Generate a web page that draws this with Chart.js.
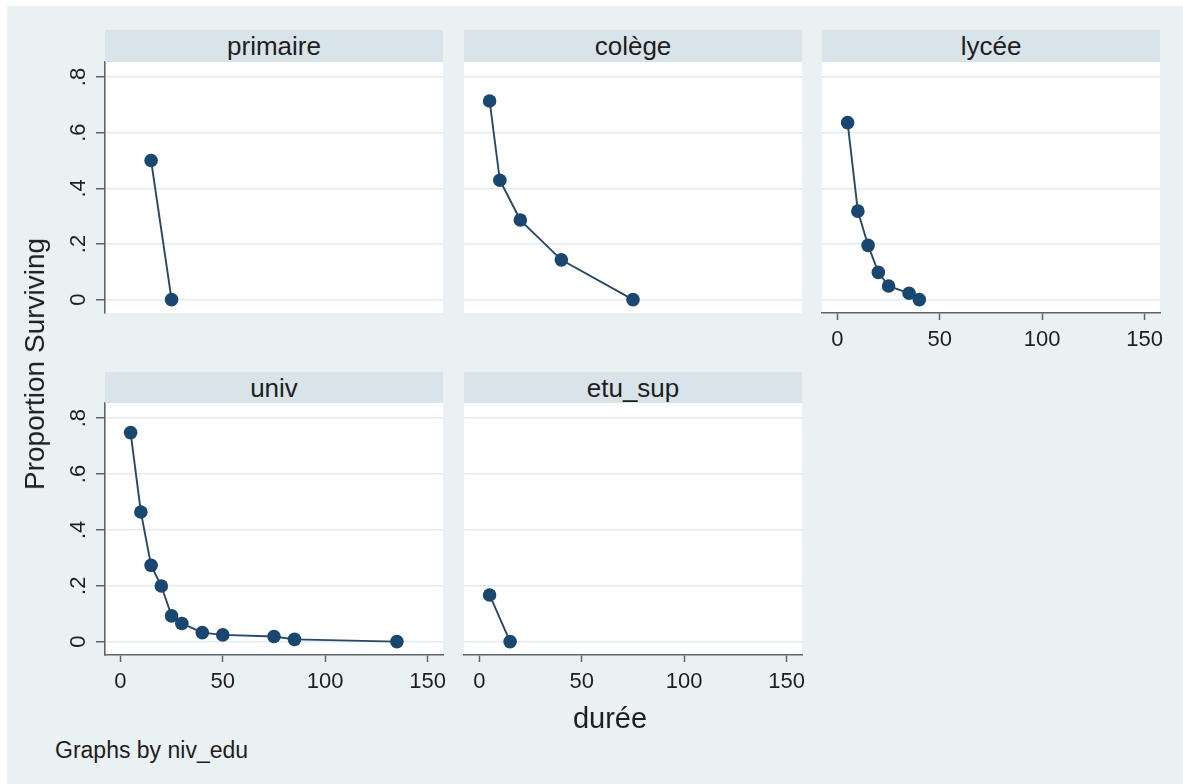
<!DOCTYPE html>
<html><head><meta charset="utf-8">
<script src="https://cdn.jsdelivr.net/npm/chart.js@4"></script>
<style>
html,body{margin:0;padding:0;}
body{background:#fff;width:1183px;height:784px;overflow:hidden;position:relative;font-family:"Liberation Sans",Arial,sans-serif;color:#1e1e1e;}
#bg{position:absolute;left:7px;top:6px;right:0;bottom:0;background:rgb(234,241,243);}
.strip{position:absolute;background:rgb(216,228,233);display:flex;align-items:center;justify-content:center;font-size:26px;color:#1e1e1e;line-height:1;}
canvas{position:absolute;}
.txt{position:absolute;white-space:nowrap;line-height:1;}
</style></head><body>
<div id="bg"></div>
<div id="root"></div>
<div class="txt" id="ytitle" style="left:35px;top:364px;font-size:28px;transform:translate(-50%,-50%) rotate(-90deg);">Proportion Surviving</div>
<div class="txt" id="xtitle" style="left:610px;top:718px;font-size:29px;transform:translate(-50%,-50%);">durée</div>
<div class="txt" id="note" style="left:55px;top:750px;font-size:23px;transform:translate(0,-50%);">Graphs by niv_edu</div>
<script>
// ---- data ----
const categories = ['primaire', 'colège', 'lycée', 'univ', 'etu_sup'];
const primaireX = [15, 25];
const primaireY = [0.5, 0];
const colegeX = [5, 10, 20, 40, 75];
const colegeY = [0.714, 0.429, 0.286, 0.143, 0];
const lyceeX = [5, 10, 15, 20, 25, 35, 40];
const lyceeY = [0.636, 0.318, 0.195, 0.098, 0.049, 0.023, 0];
const univX = [5, 10, 15, 20, 25, 30, 40, 50, 75, 85, 135];
const univY = [0.748, 0.464, 0.273, 0.199, 0.092, 0.065, 0.032, 0.024, 0.018, 0.008, 0];
const etuSupX = [5, 15];
const etuSupY = [0.167, 0];
const yTickValues = [0, 0.2, 0.4, 0.6, 0.8];
const yTickLabels = ['0', '.2', '.4', '.6', '.8'];
const xTickValues = [0, 50, 100, 150];
const xTickLabels = ['0', '50', '100', '150'];

const seriesX = [primaireX, colegeX, lyceeX, univX, etuSupX];
const seriesY = [primaireY, colegeY, lyceeY, univY, etuSupY];

// ---- layout ----
const colLeft = [105, 464, 822];
const plotW = 338;
const rows = [{stripTop: 30, stripH: 32, plotTop: 62, plotH: 251},
              {stripTop: 372, stripH: 31, plotTop: 403, plotH: 252}];
const panels = [
  {col: 0, row: 0, showY: true,  showX: false},
  {col: 1, row: 0, showY: false, showX: false},
  {col: 2, row: 0, showY: false, showX: true},
  {col: 0, row: 1, showY: true,  showX: true},
  {col: 1, row: 1, showY: false, showX: true}
];
const YW = 60, XH = 50, PADT = 40, PADR = 34;
const navy = 'rgb(26,71,111)';
const lineColor = 'rgb(40,72,105)';
const axisColor = '#5f6367';
const gridColor = 'rgb(226,235,238)';
const font = 'Liberation Sans';

const whiteBg = {
  id: 'whiteBg',
  beforeDraw(chart) {
    const a = chart.chartArea, ctx = chart.ctx;
    ctx.save(); ctx.fillStyle = '#ffffff';
    ctx.fillRect(a.left, a.top, a.right - a.left, a.bottom - a.top);
    ctx.restore();
  }
};

const root = document.getElementById('root');
panels.forEach((p, i) => {
  const r = rows[p.row];
  const left = colLeft[p.col];
  const strip = document.createElement('div');
  strip.className = 'strip';
  strip.style.left = left + 'px';
  strip.style.top = r.stripTop + 'px';
  strip.style.width = plotW + 'px';
  strip.style.height = r.stripH + 'px';
  strip.textContent = categories[i];

  const cv = document.createElement('canvas');
  const W = YW + plotW + PADR, H = PADT + r.plotH + XH;
  cv.width = W; cv.height = H;
  cv.style.width = W + 'px'; cv.style.height = H + 'px';
  cv.style.left = (left - YW) + 'px';
  cv.style.top = (r.plotTop - PADT) + 'px';
  root.appendChild(cv);
  root.appendChild(strip);

  const pts = seriesX[i].map((x, k) => ({x: x, y: seriesY[i][k]}));
  new Chart(cv, {
    type: 'scatter',
    data: {datasets: [{
      data: pts, showLine: true, tension: 0,
      borderColor: lineColor, borderWidth: 1.9,
      backgroundColor: navy, pointBackgroundColor: navy, pointBorderColor: navy,
      pointRadius: 6.8, pointBorderWidth: 0, pointHoverRadius: 6.8
    }]},
    options: {
      responsive: false, animation: false, devicePixelRatio: 1,
      layout: {padding: {left: 0, top: PADT, right: PADR, bottom: 0}},
      plugins: {legend: {display: false}, tooltip: {enabled: false}},
      events: [],
      scales: {
        x: {
          type: 'linear', position: 'bottom', min: -7.5, max: 157.5,
          afterBuildTicks: s => { s.ticks = xTickValues.map(v => ({value: v})); },
          afterFit: s => { s.height = XH; },
          ticks: {
            display: p.showX, autoSkip: false, maxRotation: 0, minRotation: 0,
            padding: 7, color: '#1e1e1e', font: {family: font, size: 22},
            callback: v => xTickLabels[xTickValues.indexOf(v)]
          },
          grid: {display: true, drawOnChartArea: false, drawTicks: p.showX, tickLength: 7,
                 tickColor: axisColor, tickWidth: 1.5, color: axisColor},
          border: {display: p.showX, color: axisColor, width: 1.6}
        },
        y: {
          type: 'linear', position: 'left', min: -0.048, max: 0.854,
          afterBuildTicks: s => { s.ticks = yTickValues.map(v => ({value: v})); },
          afterFit: s => { s.width = YW; },
          ticks: {
            display: p.showY, autoSkip: false, minRotation: 90, maxRotation: 90,
            crossAlign: 'center', padding: 8, color: '#1e1e1e', font: {family: font, size: 22},
            callback: v => yTickLabels[yTickValues.indexOf(v)]
          },
          grid: {display: true, drawOnChartArea: true, drawTicks: p.showY, tickLength: 9,
                 color: gridColor, lineWidth: 1.5, tickColor: axisColor, tickWidth: 1.5},
          border: {display: p.showY, color: axisColor, width: 1.6}
        }
      }
    },
    plugins: [whiteBg]
  });
});
</script>
</body></html>
